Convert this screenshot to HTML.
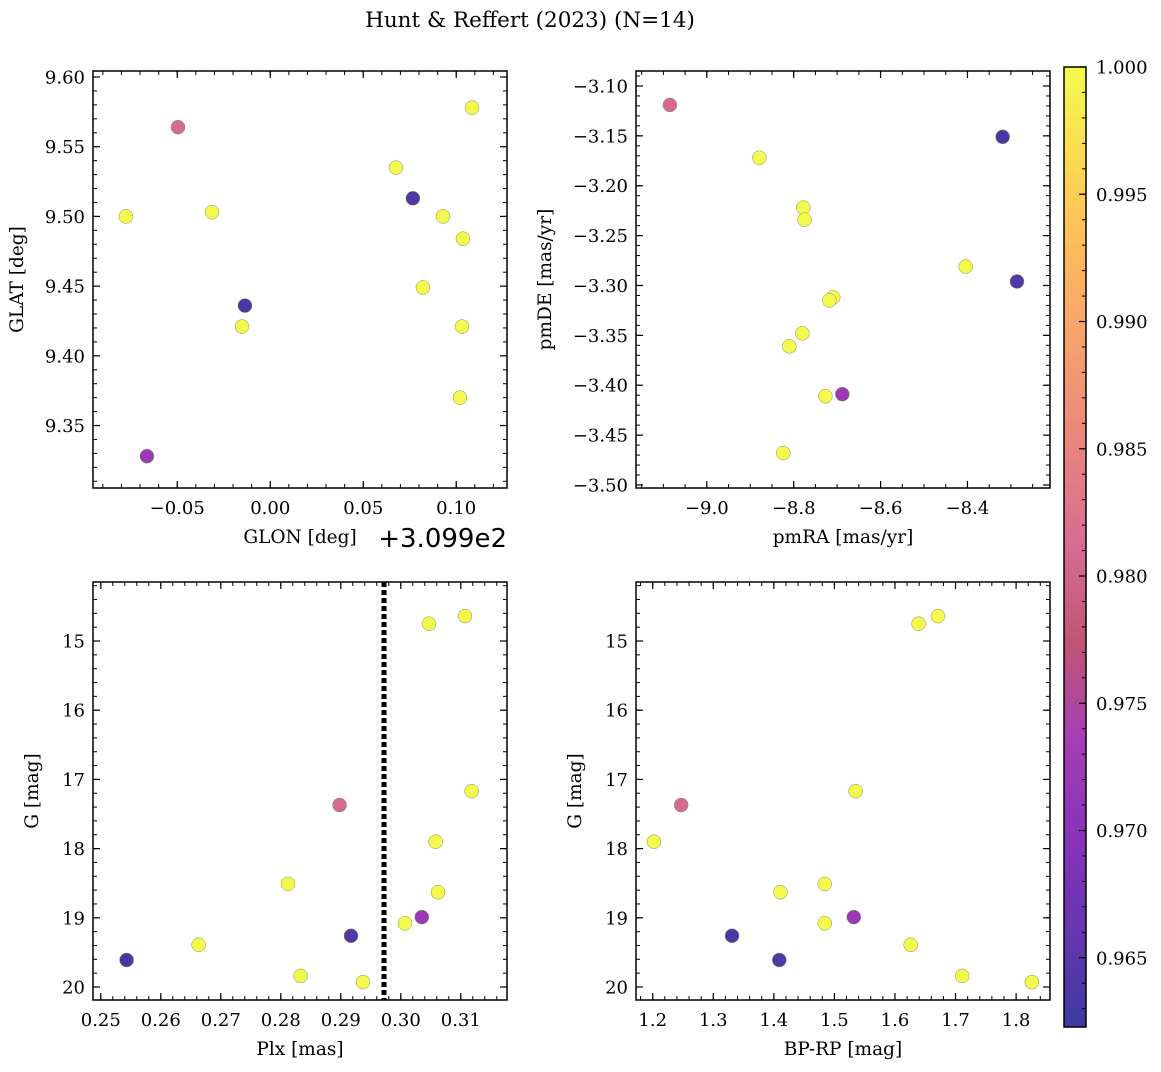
<!DOCTYPE html>
<html><head><meta charset="utf-8"><style>
body{margin:0;background:#fff}
svg text{font-family:"DejaVu Serif","Liberation Serif",serif;fill:#000}
</style></head><body>
<svg id="fig" width="1161" height="1067" xmlns="http://www.w3.org/2000/svg">
<defs><linearGradient id="cbg" x1="0" y1="1" x2="0" y2="0">
<stop offset="0" stop-color="#3d3a9f"/><stop offset="0.1" stop-color="#6736b1"/><stop offset="0.2" stop-color="#8833b9"/><stop offset="0.3" stop-color="#a53eb6"/><stop offset="0.4" stop-color="#c05573"/><stop offset="0.5" stop-color="#d66c93"/><stop offset="0.6" stop-color="#e7837f"/><stop offset="0.7" stop-color="#f59d6f"/><stop offset="0.8" stop-color="#fdb85e"/><stop offset="0.9" stop-color="#fdd851"/><stop offset="1" stop-color="#f3fa4d"/>
</linearGradient></defs>
<text x="530" y="27" font-size="21.5" text-anchor="middle">Hunt &amp; Reffert (2023) (N=14)</text>
</svg>
<script>
// Top-left: GLON offset (deg, +309.9) vs GLAT
const glonTL=[-0.0776,-0.0313,-0.0152,0.0676,0.0929,0.1036,0.1085,0.0821,0.1031,0.1020,-0.0663,-0.0496,-0.0136,0.0767];
const glatTL=[9.500,9.503,9.421,9.535,9.500,9.484,9.578,9.449,9.421,9.370,9.328,9.564,9.436,9.513];
const probTL=[1,1,1,1,1,1,1,1,1,1,0.972,0.981,0.9633,0.964];
// Top-right: pmRA vs pmDE
const pmraTR=[-8.879,-8.778,-8.775,-8.404,-8.709,-8.718,-8.780,-8.810,-8.727,-8.824,-8.688,-9.085,-8.319,-8.286];
const pmdeTR=[-3.172,-3.222,-3.234,-3.281,-3.312,-3.315,-3.348,-3.361,-3.411,-3.468,-3.409,-3.119,-3.151,-3.296];
const probTR=[1,1,1,1,1,1,1,1,1,1,0.972,0.981,0.9633,0.964];
// Bottom-left: Plx vs G
const plxBL=[0.3047,0.3107,0.3118,0.3058,0.3062,0.3007,0.2812,0.2663,0.2833,0.2937,0.3035,0.2898,0.2543,0.2917];
const gBL=[14.75,14.64,17.17,17.90,18.63,19.08,18.51,19.39,19.84,19.93,18.99,17.37,19.61,19.26];
const probBL=[1,1,1,1,1,1,1,1,1,1,0.972,0.981,0.9633,0.964];
const plxLine=[0.2972];
// Bottom-right: BP-RP vs G
const bprpBR=[1.639,1.671,1.535,1.202,1.411,1.484,1.484,1.626,1.711,1.826,1.532,1.247,1.331,1.409];
const gBR=[14.75,14.64,17.17,17.90,18.63,18.51,19.08,19.39,19.84,19.93,18.99,17.37,19.26,19.61];
const probBR=[1,1,1,1,1,1,1,1,1,1,0.972,0.981,0.9633,0.964];
// Colorbar
const cbTicks=[0.965,0.970,0.975,0.980,0.985,0.990,0.995,1.000];
const cbMin=0.96228, cbMax=1.0;

const NS="http://www.w3.org/2000/svg";
const svg=document.getElementById('fig');
function mk(tag,attrs,parent){const e=document.createElementNS(NS,tag);for(const k in attrs)e.setAttribute(k,attrs[k]);(parent||svg).appendChild(e);return e;}
const stops=[[13,8,135],[65,4,157],[106,0,168],[143,13,164],[177,42,144],[204,71,120],[225,100,98],[242,132,75],[252,166,54],[252,206,37],[240,249,33]];
function plasma(t){t=Math.max(0,Math.min(1,t));const f=t*10,i=Math.min(9,Math.floor(f)),u=f-i;const a=stops[i],b=stops[i+1];
 const c=a.map((v,k)=>Math.round((v+(b[k]-v)*u)*0.8+51));return `rgb(${c[0]},${c[1]},${c[2]})`;}
function fmt(v,d){const s=v.toFixed(d);return v<0?'\u2212'+s.slice(1):s;}
const TF=18, LF=18.5;

function panel(o){
 const g=mk('g',{});
 
 
 const sx=v=>o.x0+(v-o.xmin)/(o.xmax-o.xmin)*(o.x1-o.x0);
 const sy=v=>o.yinv? o.y0+(v-o.ymin)/(o.ymax-o.ymin)*(o.y1-o.y0) : o.y1-(v-o.ymin)/(o.ymax-o.ymin)*(o.y1-o.y0);
 const eps=1e-9;
 function ticks(min,max,step){const r=[];for(let v=Math.ceil((min-eps)/step)*step;v<=max+eps;v+=step)r.push(+v.toFixed(6));return r;}
 ticks(o.xmin,o.xmax,o.xminor).forEach(v=>{const x=sx(v);[[o.y1,-4],[o.y0,4]].forEach(([y,d])=>mk('line',{x1:x,x2:x,y1:y,y2:y+d,stroke:'#000','stroke-width':1},g));});
 ticks(o.ymin,o.ymax,o.yminor).forEach(v=>{const y=sy(v);[[o.x0,4],[o.x1,-4]].forEach(([x,d])=>mk('line',{x1:x,x2:x+d,y1:y,y2:y,stroke:'#000','stroke-width':1},g));});
 ticks(o.xmin,o.xmax,o.xmajor).forEach(v=>{const x=sx(v);[[o.y1,-7],[o.y0,7]].forEach(([y,d])=>mk('line',{x1:x,x2:x,y1:y,y2:y+d,stroke:'#000','stroke-width':1.2},g));
  const t=mk('text',{x:x,y:o.y1+26,'font-size':TF,'text-anchor':'middle'},g);t.textContent=fmt(v,o.xd);
  
  });
 ticks(o.ymin,o.ymax,o.ymajor).forEach(v=>{const y=sy(v);[[o.x0,7],[o.x1,-7]].forEach(([x,d])=>mk('line',{x1:x,x2:x+d,y1:y,y2:y,stroke:'#000','stroke-width':1.2},g));
  const t=mk('text',{x:o.x0-8,y:y+6.5,'font-size':TF,'text-anchor':'end'},g);t.textContent=fmt(v,o.yd);
  
  });
 if(o.vline){o.vline.forEach(v=>{const l=mk('line',{x1:sx(v),x2:sx(v),y1:o.y0,y2:o.y1,stroke:'#000','stroke-width':5,'stroke-dasharray':'5,3'},g);
  
  });}
 o.xs.forEach((v,i)=>{const c=mk('circle',{cx:sx(v),cy:sy(o.ys[i]),r:7,fill:plasma((o.c[i]-cbMin)/(cbMax-cbMin)),stroke:'#8a8a60','stroke-width':0.5},g);
  
  });
 mk('rect',{x:o.x0,y:o.y0,width:o.x1-o.x0,height:o.y1-o.y0,fill:'none',stroke:'#000','stroke-width':1.5},g);
 const xl=mk('text',{x:o.xlx||(o.x0+o.x1)/2,y:o.y1+55,'font-size':LF,'text-anchor':'middle'},g);xl.textContent=o.xlabel;
 
 
 const yx=o.x0-o.ylo, yy=(o.y0+o.y1)/2;
 const yl=mk('text',{x:yx,y:yy,'font-size':LF,'text-anchor':'middle',transform:`rotate(-90 ${yx} ${yy})`},g);yl.textContent=o.ylabel;
 
 
 return g;
}
panel({name:'glon-glat-panel',x0:93,x1:507,y0:71,y1:488,xmin:-0.0953,xmax:0.1273,ymin:9.3052,ymax:9.6043,xmajor:0.05,xminor:0.01,ymajor:0.05,yminor:0.01,xd:2,yd:2,xs:glonTL,ys:glatTL,c:probTL,xlabel:'GLON [deg]',xlx:300,ylabel:'GLAT [deg]',ylo:70});
const off=mk('text',{x:507,y:547,'font-size':26,'text-anchor':'end','font-family':'DejaVu Sans, Liberation Sans, sans-serif',style:'font-family:"DejaVu Sans","Liberation Sans",sans-serif'});off.textContent='+3.099e2';


panel({name:'pm-panel',x0:636,x1:1050,y0:71,y1:488,xmin:-9.163,xmax:-8.210,ymin:-3.503,ymax:-3.085,xmajor:0.2,xminor:0.05,ymajor:0.05,yminor:0.01,xd:1,yd:2,xs:pmraTR,ys:pmdeTR,c:probTR,xlabel:'pmRA [mas/yr]',ylabel:'pmDE [mas/yr]',ylo:85});
panel({name:'plx-g-panel',x0:93,x1:507,y0:582,y1:1000,xmin:0.2487,xmax:0.3177,ymin:14.147,ymax:20.188,yinv:true,xmajor:0.01,xminor:0.002,ymajor:1,yminor:0.2,xd:2,yd:0,xs:plxBL,ys:gBL,c:probBL,vline:plxLine,xlabel:'Plx [mas]',ylabel:'G [mag]',ylo:55});
panel({name:'color-magnitude-panel',x0:636,x1:1050,y0:582,y1:1000,xmin:1.1724,xmax:1.856,ymin:14.147,ymax:20.188,yinv:true,xmajor:0.1,xminor:0.02,ymajor:1,yminor:0.2,xd:1,yd:0,xs:bprpBR,ys:gBR,c:probBR,xlabel:'BP-RP [mag]',ylabel:'G [mag]',ylo:55});
// colorbar
const cb=mk('g',{});


const cbY0=67,cbY1=1027,cbX0=1064,cbX1=1086;
const cy=v=>cbY1-(v-cbMin)/(cbMax-cbMin)*(cbY1-cbY0);
mk('rect',{x:cbX0,y:cbY0,width:cbX1-cbX0,height:cbY1-cbY0,fill:'url(#cbg)'},cb);
for(let v=0.963;v<=1.0+1e-9;v+=0.001){const y=cy(v);mk('line',{x1:cbX1,x2:cbX1-4,y1:y,y2:y,stroke:'#000','stroke-width':1},cb);}
cbTicks.forEach(v=>{const y=cy(v);mk('line',{x1:cbX1,x2:cbX1-7,y1:y,y2:y,stroke:'#000','stroke-width':1.2},cb);
 const t=mk('text',{x:cbX1+10,y:y+6.5,'font-size':TF},cb);t.textContent=v.toFixed(3);
 
 });
mk('rect',{x:cbX0,y:cbY0,width:cbX1-cbX0,height:cbY1-cbY0,fill:'none',stroke:'#000','stroke-width':1.5},cb);
</script>
</body></html>
